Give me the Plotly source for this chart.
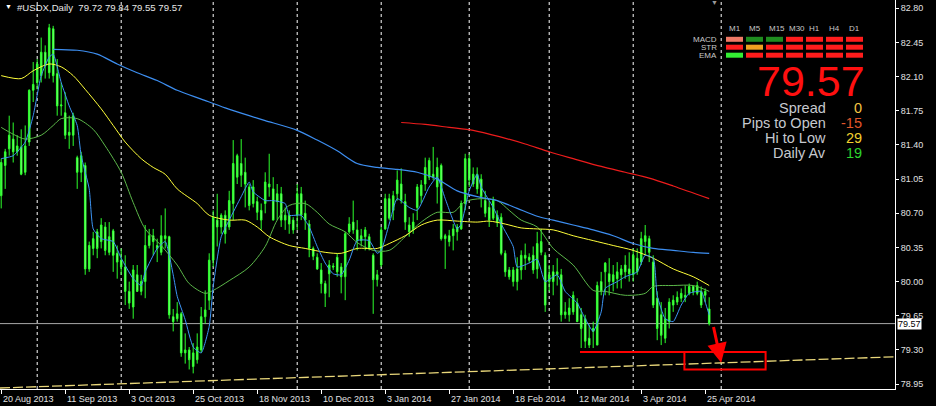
import plotly.graph_objects as go

# ---------------- data ----------------
opens = [80.88, 81.19, 81.36, 81.46, 81.33, 81.38, 81.12, 81.43, 81.96, 82.04,
         82.11, 82.35, 82.14, 82.59, 82.13, 81.80, 81.73, 81.50, 81.50, 81.27,
         81.12, 81.19, 80.13, 80.34, 80.51, 80.41, 80.56, 80.30, 80.52, 80.29,
         80.22, 80.15, 79.90, 79.74, 80.07, 79.90, 80.00, 80.37, 80.47, 80.37,
         80.30, 80.44, 80.46, 79.64, 79.62, 79.67, 79.27, 79.30, 79.13, 79.20,
         79.30, 79.64, 79.81, 80.22, 80.63, 80.56, 80.68, 80.56, 80.80, 81.07,
         81.21, 81.12, 80.97, 80.80, 80.82, 80.73, 80.80, 80.97, 80.95, 80.82,
         80.90, 80.63, 80.68, 80.63, 80.68, 80.90, 80.70, 80.59, 80.34, 80.25,
         80.12, 79.98, 80.08, 80.16, 80.25, 80.15, 80.05, 80.51, 80.61, 80.53,
         80.42, 80.46, 80.46, 80.27, 80.02, 80.17, 80.54, 80.85, 80.73, 80.90,
         81.00, 80.82, 80.58, 80.53, 80.76, 80.88, 81.00, 81.07, 81.10, 80.97,
         81.19, 80.44, 80.47, 80.47, 80.56, 80.54, 80.80, 81.26, 81.00, 81.10,
         81.05, 80.83, 80.76, 80.65, 80.68, 80.66, 80.29, 80.12, 80.00, 80.13,
         80.12, 80.24, 80.25, 80.27, 80.13, 80.30, 80.27, 80.00, 80.10, 80.07,
         80.07, 79.66, 79.66, 79.69, 79.78, 79.66, 79.62, 79.42, 79.49, 79.35,
         80.00, 80.10, 80.08, 80.00, 80.03, 80.07, 80.17, 80.13, 80.07, 80.24,
         80.20, 80.41, 80.44, 80.20, 79.83, 79.66, 79.42, 79.59, 79.76, 79.79,
         79.83, 79.84, 79.88, 79.95, 79.88, 79.90, 79.86, 79.72]
highs = [81.26, 81.36, 81.70, 81.63, 81.50, 81.56, 81.60, 81.97, 82.25, 82.28,
         82.50, 82.42, 82.64, 82.62, 82.28, 82.04, 81.94, 81.70, 81.73, 81.29,
         81.33, 81.22, 80.41, 80.51, 80.54, 80.65, 80.61, 80.61, 80.54, 80.37,
         80.34, 80.27, 80.00, 80.17, 80.17, 80.07, 80.58, 80.54, 80.54, 80.44,
         80.68, 80.75, 80.47, 79.72, 79.79, 79.69, 79.47, 79.33, 79.37, 79.47,
         79.74, 79.91, 80.29, 80.73, 80.90, 80.70, 80.73, 80.93, 81.45, 81.31,
         81.46, 81.27, 81.00, 81.04, 80.87, 80.80, 81.12, 81.31, 81.07, 81.00,
         80.97, 80.76, 80.73, 80.66, 81.00, 80.97, 80.83, 80.63, 80.36, 80.29,
         80.19, 80.01, 80.22, 80.19, 80.29, 80.19, 80.51, 80.66, 80.83, 80.63,
         80.54, 80.56, 80.49, 80.29, 80.12, 80.56, 80.90, 80.90, 80.93, 81.14,
         81.16, 80.90, 80.66, 80.70, 81.00, 81.04, 81.27, 81.27, 81.38, 81.27,
         81.21, 80.49, 80.53, 80.59, 80.59, 80.83, 81.31, 81.31, 81.17, 81.17,
         81.10, 80.93, 80.83, 80.87, 80.73, 80.70, 80.32, 80.15, 80.15, 80.25,
         80.32, 80.39, 80.29, 80.36, 80.51, 80.54, 80.30, 80.17, 80.17, 80.24,
         80.13, 79.79, 79.83, 79.90, 79.83, 79.73, 79.66, 79.56, 79.59, 80.00,
         80.10, 80.20, 80.24, 80.17, 80.20, 80.17, 80.27, 80.30, 80.34, 80.34,
         80.51, 80.58, 80.47, 80.27, 79.90, 79.79, 79.73, 79.83, 79.86, 79.90,
         79.93, 79.96, 79.98, 79.96, 80.00, 79.95, 79.93, 79.84]
lows = [80.75, 80.95, 81.29, 81.22, 81.29, 81.09, 81.09, 81.39, 81.84, 81.97,
        82.04, 82.08, 82.08, 82.04, 81.70, 81.70, 81.46, 81.36, 81.39, 80.95,
        81.02, 80.07, 80.10, 80.27, 80.24, 80.34, 80.27, 80.27, 80.10, 80.03,
        80.07, 79.76, 79.72, 79.62, 79.90, 79.86, 79.83, 80.34, 80.27, 80.20,
        80.27, 80.34, 79.62, 79.49, 79.59, 79.23, 79.16, 79.10, 79.06, 79.16,
        79.27, 79.57, 79.71, 80.15, 80.36, 80.49, 80.39, 80.53, 80.63, 81.00,
        80.97, 80.76, 80.73, 80.76, 80.63, 80.53, 80.70, 80.87, 80.63, 80.63,
        80.56, 80.53, 80.49, 80.49, 80.53, 80.63, 80.53, 80.25, 80.22, 80.12,
        79.88, 79.74, 79.84, 80.12, 80.05, 79.88, 79.81, 80.49, 80.49, 80.32,
        80.36, 80.32, 80.32, 79.67, 79.95, 80.15, 80.53, 80.63, 80.63, 80.83,
        80.80, 80.53, 80.46, 80.49, 80.63, 80.80, 80.93, 81.04, 81.04, 80.80,
        80.42, 80.13, 80.36, 80.32, 80.42, 80.53, 80.73, 80.97, 80.97, 80.90,
        80.76, 80.66, 80.56, 80.63, 80.56, 80.27, 80.05, 80.02, 79.95, 79.91,
        80.02, 80.12, 80.19, 80.08, 80.03, 80.27, 79.69, 79.90, 79.86, 79.96,
        79.59, 79.62, 79.59, 79.66, 79.59, 79.32, 79.32, 79.32, 79.32, 79.35,
        79.86, 79.86, 79.86, 79.90, 79.93, 79.93, 80.03, 80.00, 80.00, 80.07,
        80.17, 80.27, 80.20, 79.73, 79.40, 79.35, 79.37, 79.52, 79.69, 79.76,
        79.79, 79.79, 79.86, 79.86, 79.86, 79.73, 79.79, 79.55]
closes = [81.22, 81.33, 81.50, 81.33, 81.39, 81.10, 81.39, 81.96, 82.02, 82.23,
          82.35, 82.21, 82.60, 82.11, 81.80, 81.81, 81.50, 81.53, 81.70, 81.12,
          81.29, 80.13, 80.37, 80.44, 80.34, 80.58, 80.32, 80.46, 80.27, 80.20,
          80.15, 79.90, 79.78, 80.12, 79.90, 80.00, 80.37, 80.47, 80.41, 80.34,
          80.47, 80.47, 79.66, 79.59, 79.67, 79.27, 79.30, 79.20, 79.27, 79.33,
          79.64, 79.71, 80.22, 80.66, 80.56, 80.68, 80.49, 80.83, 81.21, 81.29,
          81.09, 81.00, 80.78, 80.97, 80.71, 80.63, 81.02, 81.00, 80.63, 80.90,
          80.63, 80.68, 80.59, 80.53, 80.90, 80.68, 80.63, 80.34, 80.26, 80.13,
          79.98, 79.88, 80.17, 80.15, 80.10, 80.05, 80.49, 80.59, 80.53, 80.42,
          80.47, 80.53, 80.34, 80.02, 80.07, 80.53, 80.85, 80.65, 80.88, 81.04,
          80.83, 80.61, 80.51, 80.61, 80.97, 80.99, 81.17, 81.24, 81.07, 81.17,
          80.44, 80.47, 80.41, 80.54, 80.51, 80.80, 81.26, 81.04, 81.10, 80.95,
          80.87, 80.70, 80.63, 80.83, 80.61, 80.29, 80.10, 80.05, 80.12, 80.00,
          80.27, 80.27, 80.22, 80.12, 80.39, 80.41, 79.76, 80.07, 80.00, 80.10,
          79.66, 79.69, 79.73, 79.86, 79.59, 79.52, 79.39, 79.35, 79.52, 79.96,
          79.90, 80.19, 80.00, 80.07, 80.10, 80.13, 80.10, 80.08, 80.27, 80.10,
          80.44, 80.47, 80.30, 79.76, 79.52, 79.45, 79.62, 79.79, 79.81, 79.84,
          79.88, 79.86, 79.95, 79.90, 79.96, 79.76, 79.90, 79.57]
bars = list(range(len(closes)))

# indicator lines (bar index, price)
ma_long_bars = [13, 19, 24, 29, 34, 39, 44, 50, 56, 62, 66, 74, 79, 84, 89, 94, 99, 104,
                109, 114, 119, 124, 129, 134, 138, 143, 148, 153, 158, 163, 168, 173, 177]
ma_long_vals = [82.38, 82.37, 82.33, 82.23, 82.14, 82.06, 81.96, 81.87, 81.78, 81.70,
                81.65, 81.55, 81.45, 81.34, 81.21, 81.17, 81.15, 81.12, 81.05, 80.93,
                80.87, 80.83, 80.75, 80.67, 80.63, 80.58, 80.53, 80.47, 80.39, 80.34,
                80.32, 80.30, 80.29]
ma_mid_bars = [0, 5, 8, 12, 15, 18, 21, 25, 28, 31, 35, 38, 41, 44, 49, 52, 57, 61, 64,
               67, 72, 76, 81, 85, 89, 94, 97, 101, 105, 109, 114, 119, 122, 126, 130,
               134, 138, 143, 148, 153, 158, 163, 168, 173, 177]
ma_mid_vals = [82.11, 82.08, 82.16, 82.23, 82.20, 82.11, 81.97, 81.77, 81.60, 81.43,
               81.26, 81.17, 81.10, 80.95, 80.80, 80.68, 80.63, 80.63, 80.56, 80.46,
               80.37, 80.34, 80.30, 80.29, 80.34, 80.34, 80.39, 80.47, 80.58, 80.63,
               80.62, 80.61, 80.62, 80.59, 80.55, 80.54, 80.53, 80.47, 80.42, 80.37,
               80.32, 80.24, 80.13, 80.05, 79.96]
ma_green_bars = [0, 3, 6, 10, 13, 15, 19, 23, 26, 30, 33, 36, 40, 44, 47, 51, 53, 57, 62,
                 66, 69, 72, 76, 79, 82, 86, 89, 93, 97, 101, 105, 109, 113, 116, 120,
                 124, 127, 130, 134, 138, 143, 148, 151, 156, 161, 163, 168, 173, 177]
ma_green_vals = [81.58, 81.51, 81.46, 81.50, 81.60, 81.67, 81.67, 81.56, 81.39, 81.12,
                 80.81, 80.54, 80.37, 80.17, 79.98, 79.88, 79.91, 80.01, 80.15, 80.36,
                 80.63, 80.78, 80.80, 80.71, 80.59, 80.51, 80.40, 80.32, 80.32, 80.46,
                 80.61, 80.71, 80.71, 80.82, 80.85, 80.83, 80.73, 80.63, 80.56, 80.34,
                 80.17, 79.91, 79.90, 79.86, 79.88, 79.95, 79.96, 79.96, 79.90]
ma_fast_bars = [0, 3, 6, 8, 10, 12, 13, 15, 17, 19, 20, 22, 23, 25, 28, 30, 33, 35, 36,
                39, 41, 43, 44, 46, 48, 50, 52, 53, 55, 57, 60, 62, 63, 66, 68, 71, 72,
                75, 77, 79, 81, 83, 85, 87, 89, 92, 94, 95, 97, 99, 102, 104, 107, 109,
                111, 114, 115, 117, 119, 120, 123, 125, 128, 129, 132, 134, 136, 139,
                141, 144, 146, 148, 150, 151, 154, 156, 159, 161, 163, 164, 166, 168,
                170, 172, 175, 176, 177]
ma_fast_vals = [81.26, 81.29, 81.43, 81.70, 82.11, 82.30, 82.33, 82.04, 81.80, 81.60,
                81.29, 80.95, 80.54, 80.44, 80.41, 80.24, 80.03, 79.96, 80.10, 80.34,
                80.41, 80.07, 79.85, 79.61, 79.33, 79.27, 79.54, 79.95, 80.46, 80.63,
                80.87, 81.02, 80.92, 80.83, 80.83, 80.80, 80.68, 80.68, 80.56, 80.36,
                80.19, 80.08, 80.07, 80.22, 80.42, 80.42, 80.29, 80.32, 80.59, 80.85,
                80.76, 80.73, 80.97, 81.07, 80.85, 80.54, 80.59, 80.93, 81.10, 80.97,
                80.76, 80.59, 80.36, 80.15, 80.19, 80.23, 80.00, 80.07, 79.90, 79.78,
                79.62, 79.49, 79.69, 79.93, 80.00, 80.05, 80.10, 80.27, 80.24, 79.86,
                79.62, 79.59, 79.76, 79.88, 79.90, 79.79, 79.66]
ma_red_bars = [100, 106, 112, 118, 125, 131, 137, 143, 150, 156, 162, 168, 177]
ma_red_vals = [81.63, 81.61, 81.58, 81.55, 81.48, 81.41, 81.33, 81.26, 81.18, 81.12,
               81.06, 80.98, 80.85]

trend_bars = [-0.3, 223.45]
trend_vals = [78.91, 79.23]

support_level = 79.28
support_start_bar = 144.7
box_bars = [170.8, 191.1]
box_vals = [79.10, 79.28]
arrow_from = (178.0, 79.55)
arrow_to = (180.0, 79.17)

date_tick_bars = [0, 16, 32, 48, 64, 80, 96, 112, 128, 144, 160, 176]
date_tick_labels = ["20 Aug 2013", "11 Sep 2013", "3 Oct 2013", "25 Oct 2013",
                    "18 Nov 2013", "10 Dec 2013", "3 Jan 2014", "27 Jan 2014",
                    "18 Feb 2014", "12 Mar 2014", "3 Apr 2014", "25 Apr 2014"]
month_separator_bars = [9, 30, 53, 74, 95, 117, 137, 158, 180]
price_ticks = [78.95, 79.30, 79.65, 80.00, 80.35, 80.70, 81.05, 81.40, 81.75, 82.10,
               82.45, 82.80]

symbol_title = "#USDX,Daily"
ohlc_now = [79.72, 79.84, 79.55, 79.57]
last_price = 79.57

timeframes = ["M1", "M5", "M15", "M30", "H1", "H4", "D1"]
signal_rows = ["MACD", "STR", "EMA"]
R, G, L, O, S = "#ff1c1c", "#1f8c1f", "#33ee33", "#f0a020", "#f07a66"
signal_colors = [
    [S, G, G, R, R, R, R],
    [R, O, R, R, R, R, R],
    [L, R, R, R, R, R, R],
]
info_labels = ["Spread", "Pips to Open", "Hi to Low", "Daily Av"]
info_values = ["0", "-15", "29", "19"]
info_colors = ["#f5c542", "#e0562a", "#f2d02e", "#2ed42e"]

# ---------------- figure ----------------
W, H = 936, 406
PW, PH = 895, 389
FONT = "Liberation Sans, Arial, sans-serif"


def px(x):
    return x / PW


def py(y):
    return 1 - y / PH


fig = go.Figure()

fig.add_trace(go.Candlestick(
    x=bars, open=opens, high=highs, low=lows, close=closes,
    increasing=dict(line=dict(color="#2cff2c", width=1), fillcolor="#66f566"),
    decreasing=dict(line=dict(color="#2cff2c", width=1), fillcolor="#9dff9d"),
    whiskerwidth=0, hoverinfo="skip", showlegend=False))

fig.add_trace(go.Scatter(x=trend_bars, y=trend_vals, mode="lines",
                         line=dict(color="#e9d77a", width=1.3, dash="10px,3px"),
                         hoverinfo="skip"))
fig.add_trace(go.Scatter(x=ma_green_bars, y=ma_green_vals, mode="lines",
                         line=dict(color="#5cb84a", width=1, shape="spline", smoothing=0.8),
                         hoverinfo="skip"))
fig.add_trace(go.Scatter(x=ma_mid_bars, y=ma_mid_vals, mode="lines",
                         line=dict(color="#ffff3a", width=1, shape="spline", smoothing=0.8),
                         hoverinfo="skip"))
fig.add_trace(go.Scatter(x=ma_long_bars, y=ma_long_vals, mode="lines",
                         line=dict(color="#3d8ef0", width=1.2, shape="spline", smoothing=0.8),
                         hoverinfo="skip"))
fig.add_trace(go.Scatter(x=ma_fast_bars, y=ma_fast_vals, mode="lines",
                         line=dict(color="#3d95f5", width=1, shape="spline", smoothing=0.5),
                         hoverinfo="skip"))
fig.add_trace(go.Scatter(x=ma_red_bars, y=ma_red_vals, mode="lines",
                         line=dict(color="#ee1c1c", width=1.2, shape="spline", smoothing=0.8),
                         hoverinfo="skip"))

shapes = []
for b in month_separator_bars:
    shapes.append(dict(type="line", xref="x", yref="paper", x0=b, x1=b, y0=0, y1=1,
                       line=dict(color="#ffffff", width=1, dash="3px,3px"), layer="below"))
shapes.append(dict(type="line", xref="paper", yref="y", x0=0, x1=1, y0=last_price,
                   y1=last_price, line=dict(color="#a8a8a8", width=1), layer="below"))
shapes.append(dict(type="line", xref="x", yref="y", x0=support_start_bar, x1=box_bars[0],
                   y0=support_level, y1=support_level, line=dict(color="#ff0000", width=2)))
shapes.append(dict(type="rect", xref="x", yref="y", x0=box_bars[0], x1=box_bars[1],
                   y0=box_vals[0], y1=box_vals[1], line=dict(color="#ff0000", width=2)))

# signal panel
col_x0 = [726, 746, 766, 786, 806, 826, 846]
row_y = [39.3, 47.2, 55.2]
annotations = []
for r, row in enumerate(signal_colors):
    for c, colr in enumerate(row):
        shapes.append(dict(type="rect", xref="paper", yref="paper",
                           x0=px(col_x0[c]), x1=px(col_x0[c] + 17),
                           y0=py(row_y[r] + 2.5), y1=py(row_y[r] - 2.5),
                           line=dict(width=0), fillcolor=colr))
    annotations.append(dict(xref="paper", yref="paper", x=px(719), y=py(row_y[r]),
                            text=signal_rows[r], showarrow=False, xanchor="right",
                            yanchor="middle", font=dict(family=FONT, size=8, color="#c8c8c8")))
for c, tf in enumerate(timeframes):
    annotations.append(dict(xref="paper", yref="paper", x=px(col_x0[c] + 1), y=py(29),
                            text=tf, showarrow=False, xanchor="left", yanchor="middle",
                            font=dict(family=FONT, size=8, color="#c8c8c8")))

annotations.append(dict(xref="paper", yref="paper", x=px(811), y=py(81),
                        text=f"{last_price:.2f}", showarrow=False, xanchor="center",
                        yanchor="middle", font=dict(family=FONT, size=43, color="#ff1010")))
for i, (lab, val, colr) in enumerate(zip(info_labels, info_values, info_colors)):
    yy = 108 + 15 * i
    annotations.append(dict(xref="paper", yref="paper", x=px(828), y=py(yy), text=lab,
                            showarrow=False, xanchor="right", yanchor="middle",
                            font=dict(family=FONT, size=14.5, color="#c6c9cf")))
    annotations.append(dict(xref="paper", yref="paper", x=px(864), y=py(yy), text=val,
                            showarrow=False, xanchor="right", yanchor="middle",
                            font=dict(family=FONT, size=14.5, color=colr)))

# header
annotations.append(dict(xref="paper", yref="paper", x=px(3), y=py(6), text="▼",
                        showarrow=False, xanchor="left", yanchor="middle",
                        font=dict(family=FONT, size=7, color="#ffffff")))
annotations.append(dict(xref="paper", yref="paper", x=px(15), y=py(8),
                        text=symbol_title + "  " + " ".join(f"{v:.2f}" for v in ohlc_now),
                        showarrow=False, xanchor="left", yanchor="middle",
                        font=dict(family=FONT, size=9.6, color="#e8e8e8")))
annotations.append(dict(xref="paper", yref="paper", x=px(714), y=py(2), text="▼",
                        showarrow=False, xanchor="center", yanchor="middle",
                        font=dict(family=FONT, size=7, color="#9a9a9a")))

# date labels (left aligned at tick, as in the terminal)
for b, lab in zip(date_tick_bars, date_tick_labels):
    annotations.append(dict(xref="x", yref="paper", x=b, y=0, yshift=-3, xshift=0,
                            text=lab, showarrow=False, xanchor="left", yanchor="top",
                            font=dict(family=FONT, size=9, color="#e0e0e0")))

# current price tag
annotations.append(dict(xref="paper", yref="y", x=1, y=last_price, xshift=2,
                        text=f"{last_price:.2f}", showarrow=False, xanchor="left",
                        yanchor="middle", bgcolor="#ffffff", borderpad=0,
                        font=dict(family=FONT, size=9, color="#000000")))

# arrow
annotations.append(dict(xref="x", yref="y", x=arrow_to[0], y=arrow_to[1],
                        axref="x", ayref="y", ax=arrow_from[0], ay=arrow_from[1],
                        text="", showarrow=True, arrowhead=2, arrowsize=1.3,
                        arrowwidth=3, arrowcolor="#ff0000"))

fig.update_layout(
    width=W, height=H,
    margin=dict(l=0, r=W - PW, t=0, b=H - PH),
    paper_bgcolor="#000000", plot_bgcolor="#000000",
    showlegend=False, boxgap=0.45,
    shapes=shapes, annotations=annotations,
    xaxis=dict(range=[-0.3, 223.45], showgrid=False, zeroline=False,
               rangeslider=dict(visible=False), showline=True, linecolor="#ffffff",
               linewidth=1, ticks="outside", ticklen=4, tickcolor="#ffffff",
               tickvals=date_tick_bars, showticklabels=False, fixedrange=True),
    yaxis=dict(range=[78.90, 82.885], side="right", showgrid=False, zeroline=False,
               showline=True, linecolor="#ffffff", linewidth=1, ticks="outside",
               ticklen=3, tickcolor="#ffffff", tickvals=price_ticks,
               ticktext=[f"{v:.2f}" for v in price_ticks],
               tickfont=dict(family=FONT, size=9, color="#e0e0e0")),
)

fig.write_html("out.html",
               config={"displayModeBar": False, "staticPlot": True},
               post_script="document.body.style.margin='0';document.body.style.overflow='hidden';document.body.style.background='#000';")
